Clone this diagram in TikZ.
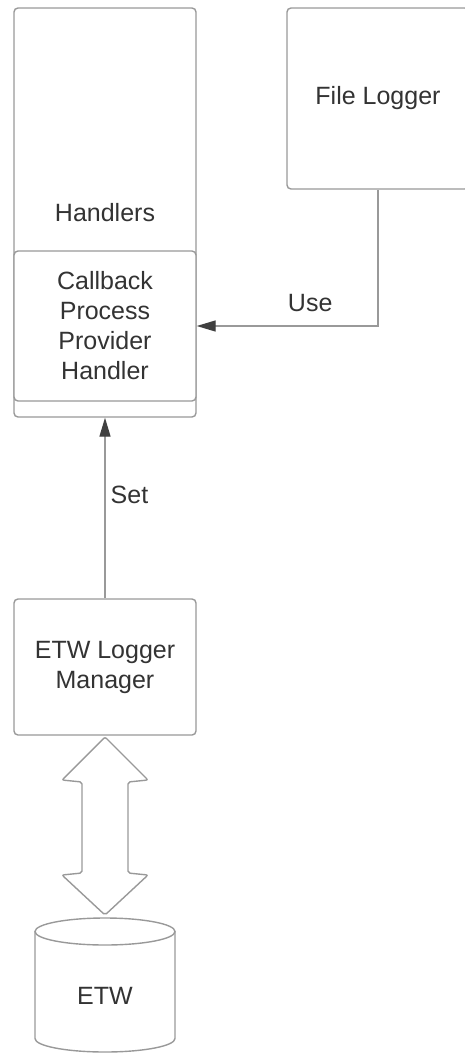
\documentclass[tikz,border=0pt]{standalone}
\usepackage{fontspec}
\setmainfont{Liberation Sans}
\usetikzlibrary{arrows.meta}

\begin{document}
\begin{tikzpicture}[x=1pt,y=-1pt,
  box/.style={draw=black!40, line width=1.4pt, rounded corners=4pt, fill=white,
    text=black!80, align=center, inner sep=0pt, font=\fontsize{25}{30}\selectfont},
  link/.style={draw=black!40, line width=1.4pt},
  tip/.style={-{Triangle[length=19pt, width=11pt, color=black!75]}},
  lbl/.style={text=black!80, inner sep=0pt, font=\fontsize{25}{30}\selectfont}]
\useasboundingbox (0,0) rectangle (464,1055);
\node[box, minimum width=182pt, minimum height=409pt] (handlers) at (105,212.5) {Handlers};
\node[box, minimum width=182pt, minimum height=150pt] (callback) at (105,326) {Callback\\Process\\Provider\\Handler};
\node[box, minimum width=182pt, minimum height=181pt] (filelogger) at (378,98.5) {File Logger};
\node[box, minimum width=182pt, minimum height=136pt] (manager) at (105,667) {ETW Logger\\Manager};
\draw[link, tip] (filelogger.south) |- (callback.east) node[lbl, pos=0.687, above=14pt] {Use};
\draw[link, tip] (manager.north) -- (handlers.south) node[lbl, pos=0.57, anchor=west, xshift=5pt] {Set};
% two-headed block arrow between the manager and the store
\draw[link, rounded corners=2pt] (105,737) -- (148,780) -- (128,782) -- (128,873) -- (148,875) -- (105,915)
  -- (62,875) -- (82,873) -- (82,782) -- (62,780) -- cycle;
\draw[link] (35,931.5) -- (35,1038.5) arc[start angle=180, end angle=0, x radius=70, y radius=13.5] -- (175,931.5);
\draw[link] (105,931.5) ellipse [x radius=70, y radius=13.5];
\node[lbl] (etw) at (105,996) {ETW};
\end{tikzpicture}
\end{document}
